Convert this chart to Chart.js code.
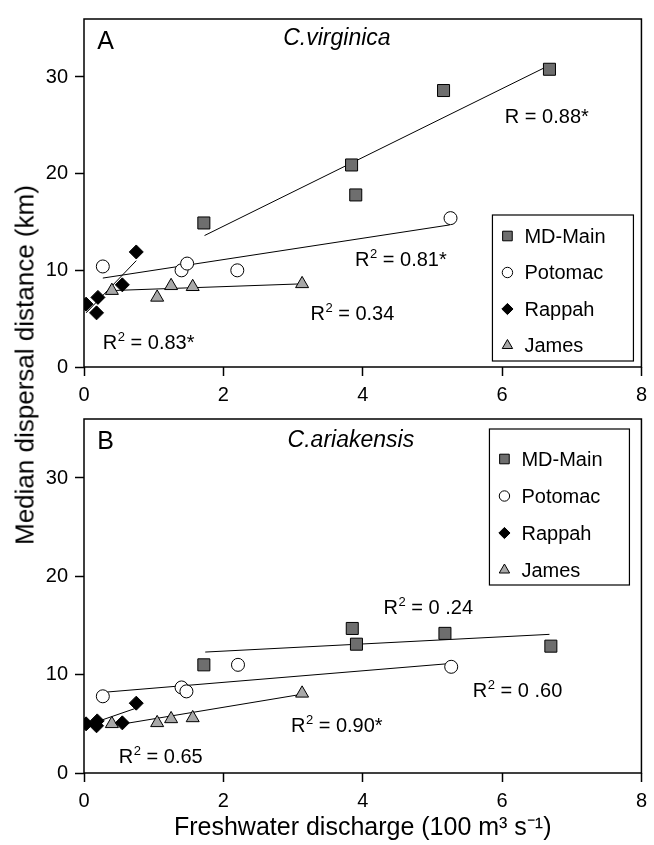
<!DOCTYPE html>
<html>
<head>
    <title>Median dispersal distance vs freshwater discharge</title>
    <script src="https://cdn.jsdelivr.net/npm/chart.js@4.4.0/dist/chart.umd.min.js"></script>
    <style>
        body { margin: 0; background: #fff; }
        #wrap { position: relative; width: 654px; height: 845px; }
        #chartA { position: absolute; left: 0; top: 0; }
        #chartB { position: absolute; left: 0; top: 400px; }
        #ytitle {
            position: absolute; left: 25px; top: 365px;
            transform: translate(-50%, -50%) rotate(-90deg);
            white-space: nowrap; font-family: "Liberation Sans", Arial, sans-serif;
            font-size: 26px; color: #000;
        }
    </style>
</head>
<body>
<div id="wrap">
    <canvas id="chartA" width="654" height="412"></canvas>
    <canvas id="chartB" width="654" height="445"></canvas>
    <div id="ytitle">Median dispersal distance (km)</div>
</div>

<script>
    // data: [discharge (100 m3/s), median dispersal (km)]
    var seriesNames = ['MD-Main', 'Potomac', 'Rappah', 'James'];
    var xTicks = [0, 2, 4, 6, 8];
    var yTicks = [0, 10, 20, 30];

    // panel A - C. virginica
    var virMdMain = [[1.72, 14.9], [3.84, 20.9], [3.9, 17.8], [5.16, 28.6], [6.68, 30.8]];
    var virPotomac = [[0.27, 10.4], [1.4, 10.0], [1.48, 10.7], [2.2, 10.0], [5.26, 15.4]];
    var virRappah = [[0.03, 6.5], [0.18, 5.6], [0.2, 7.2], [0.55, 8.5], [0.75, 11.9]];
    var virJames = [[0.4, 7.9], [1.05, 7.2], [1.25, 8.4], [1.56, 8.3], [3.13, 8.6]];
    var virMdMainFit = [[1.73, 13.6], [6.62, 31.0]];
    var virPotomacFit = [[0.27, 9.2], [5.25, 14.7]];
    var virRappahFit = [[0.03, 5.6], [0.75, 11.0]];
    var virJamesFit = [[0.37, 7.9], [3.12, 8.6]];

    // panel B - C. ariakensis
    var ariMdMain = [[1.72, 11.0], [3.85, 14.7], [3.91, 13.1], [5.18, 14.2], [6.7, 12.9]];
    var ariPotomac = [[0.27, 7.8], [1.4, 8.7], [1.47, 8.3], [2.21, 11.0], [5.27, 10.8]];
    var ariRappah = [[0.03, 5.0], [0.18, 4.8], [0.19, 5.3], [0.55, 5.1], [0.75, 7.1]];
    var ariJames = [[0.4, 5.0], [1.05, 5.1], [1.25, 5.5], [1.56, 5.6], [3.13, 8.1]];
    var ariMdMainFit = [[1.74, 12.3], [6.68, 14.1]];
    var ariPotomacFit = [[0.27, 8.2], [5.2, 11.1]];
    var ariRappahFit = [[0.18, 5.2], [0.75, 6.6]];
    var ariJamesFit = [[0.4, 4.8], [3.12, 8.0]];

    var FONT = '"Liberation Sans", Arial, sans-serif';
    Chart.defaults.font.family = FONT;
    Chart.defaults.color = '#000';

    var markerStyles = {
        'MD-Main': { pointStyle: 'rect', radius: 8.5, bg: '#6e6e6e' },
        'Potomac': { pointStyle: 'circle', radius: 6.5, bg: '#ffffff' },
        'Rappah': { pointStyle: 'rectRot', radius: 7, bg: '#000000' },
        'James': { pointStyle: 'triangle', radius: 7.5, bg: '#a8a8a8' }
    };

    function toXY(arr) {
        return arr.map(function (p) { return { x: p[0], y: p[1] }; });
    }

    function pointSet(name, arr) {
        var s = markerStyles[name];
        return {
            label: name, data: toXY(arr), order: 1,
            pointStyle: s.pointStyle, pointRadius: s.radius, pointHoverRadius: s.radius,
            backgroundColor: s.bg, borderColor: '#000', borderWidth: 1, showLine: false
        };
    }

    function fitSet(name, arr) {
        return {
            label: name + ' fit', data: toXY(arr), order: 2, showLine: true,
            pointRadius: 0, borderColor: '#000', borderWidth: 1, fill: false
        };
    }

    // draw a legend marker by hand (same shapes as the library's point styles)
    function drawMarker(ctx, s, x, y, r) {
        ctx.beginPath();
        if (s.pointStyle === 'rect') {
            var h = r * Math.SQRT1_2;
            ctx.rect(x - h, y - h, 2 * h, 2 * h);
        } else if (s.pointStyle === 'circle') {
            ctx.arc(x, y, r, 0, Math.PI * 2);
        } else if (s.pointStyle === 'rectRot') {
            ctx.moveTo(x - r, y); ctx.lineTo(x, y - r); ctx.lineTo(x + r, y); ctx.lineTo(x, y + r);
            ctx.closePath();
        } else {
            for (var i = 0; i < 3; i++) {
                var a = i * 2 * Math.PI / 3;
                var px = x + Math.sin(a) * r, py = y - Math.cos(a) * r;
                if (i === 0) ctx.moveTo(px, py); else ctx.lineTo(px, py);
            }
            ctx.closePath();
        }
        ctx.fillStyle = s.bg;
        ctx.fill();
        ctx.lineWidth = 1;
        ctx.strokeStyle = '#000';
        ctx.stroke();
    }

    // frame + legend box + text labels
    var panelPlugin = {
        id: 'panelExtras',
        afterDraw: function (chart) {
            var o = chart.options.plugins.panelExtras;
            var ctx = chart.ctx, a = chart.chartArea;
            var xs = chart.scales.x, ys = chart.scales.y;
            ctx.save();
            ctx.strokeStyle = '#000';
            ctx.lineWidth = 1.5;
            ctx.strokeRect(a.left, a.top, a.right - a.left, a.bottom - a.top);

            // legend
            var lg = o.legend;
            var bx = a.right - lg.right - lg.width, by = a.top + lg.top;
            ctx.lineWidth = 1.2;
            ctx.strokeRect(bx, by, lg.width, lg.height);
            ctx.font = '20px ' + FONT;
            ctx.textBaseline = 'middle';
            ctx.textAlign = 'left';
            seriesNames.forEach(function (n, i) {
                var yy = by + lg.first + i * lg.step;
                drawMarker(ctx, markerStyles[n], bx + 15, yy, markerStyles[n].radius * 0.8);
                ctx.fillStyle = '#000';
                ctx.fillText(n, bx + 32, yy + 1);
            });

            // panel letter and species name
            ctx.textBaseline = 'alphabetic';
            ctx.fillStyle = '#000';
            ctx.font = '25px ' + FONT;
            ctx.fillText(o.letter.text, xs.getPixelForValue(o.letter.x), ys.getPixelForValue(o.letter.y));
            ctx.font = 'italic 23px ' + FONT;
            ctx.textAlign = 'center';
            ctx.fillText(o.species.text, xs.getPixelForValue(o.species.x), ys.getPixelForValue(o.species.y));

            // regression labels
            ctx.textAlign = 'left';
            o.notes.forEach(function (n) {
                var x = xs.getPixelForValue(n.x), y = ys.getPixelForValue(n.y);
                ctx.font = '20px ' + FONT;
                ctx.fillText(n.pre, x, y);
                x += ctx.measureText(n.pre).width;
                if (n.sup) {
                    ctx.font = '13px ' + FONT;
                    ctx.fillText(n.sup, x + 0.5, y - 8);
                    x += ctx.measureText(n.sup).width + 0.5;
                }
                ctx.font = '20px ' + FONT;
                ctx.fillText(n.post, x, y);
            });
            ctx.restore();
        }
    };

    function makeChart(id, sets, fits, extras, pad, xHeight, showXTitle) {
        return new Chart(document.getElementById(id), {
            type: 'scatter',
            data: {
                datasets: [
                    pointSet('MD-Main', sets[0]), pointSet('Potomac', sets[1]),
                    pointSet('Rappah', sets[2]), pointSet('James', sets[3]),
                    fitSet('MD-Main', fits[0]), fitSet('Potomac', fits[1]),
                    fitSet('Rappah', fits[2]), fitSet('James', fits[3])
                ]
            },
            options: {
                responsive: false,
                animation: false,
                events: [],
                layout: { padding: pad },
                plugins: {
                    legend: { display: false },
                    tooltip: { enabled: false },
                    panelExtras: extras
                },
                scales: {
                    x: {
                        type: 'linear', min: 0, max: 8,
                        afterBuildTicks: function (s) { s.ticks = xTicks.map(function (v) { return { value: v }; }); },
                        afterFit: function (s) { s.height = xHeight; },
                        border: { display: false },
                        grid: { drawOnChartArea: false, drawTicks: true, tickLength: 9, tickWidth: 1.5, tickColor: '#000' },
                        ticks: { font: { size: 20 }, padding: 7, maxRotation: 0, color: '#000' },
                        title: {
                            display: showXTitle, text: 'Freshwater discharge (100 m\u00b3 s\u207b\u00b9)',
                            font: { size: 25 }, padding: { top: 0, bottom: 2 }, color: '#000'
                        }
                    },
                    y: {
                        type: 'linear', min: 0, max: 36,
                        afterBuildTicks: function (s) { s.ticks = yTicks.map(function (v) { return { value: v }; }); },
                        afterFit: function (s) { s.width = 84; },
                        border: { display: false },
                        grid: { drawOnChartArea: false, drawTicks: true, tickLength: 9, tickWidth: 1.5, tickColor: '#000' },
                        ticks: { font: { size: 20 }, padding: 7, color: '#000' }
                    }
                }
            },
            plugins: [panelPlugin]
        });
    }

    // panel A canvas is a little taller than 400 so its tick labels are not cut;
    // panel B's transparent top margin sits over that strip
    makeChart('chartA',
        [virMdMain, virPotomac, virRappah, virJames],
        [virMdMainFit, virPotomacFit, virRappahFit, virJamesFit],
        {
            legend: { right: 8, width: 141, top: 196, height: 146, first: 21, step: 36.5 },
            letter: { text: 'A', x: 0.19, y: 32.9 },
            species: { text: 'C.virginica', x: 3.63, y: 33.3 },
            notes: [
                { pre: 'R = 0.88*', sup: '', post: '', x: 6.04, y: 25.2 },
                { pre: 'R', sup: '2', post: ' = 0.81*', x: 3.89, y: 10.5 },
                { pre: 'R', sup: '2', post: ' = 0.34', x: 3.25, y: 4.9 },
                { pre: 'R', sup: '2', post: ' = 0.83*', x: 0.27, y: 1.9 }
            ]
        },
        { left: 0, right: 12, top: 10, bottom: 0 }, 45, false);

    makeChart('chartB',
        [ariMdMain, ariPotomac, ariRappah, ariJames],
        [ariMdMainFit, ariPotomacFit, ariRappahFit, ariJamesFit],
        {
            legend: { right: 12, width: 140, top: 10, height: 156, first: 30, step: 37 },
            letter: { text: 'B', x: 0.19, y: 32.9 },
            species: { text: 'C.ariakensis', x: 3.83, y: 33.2 },
            notes: [
                { pre: 'R', sup: '2', post: ' = 0 .24', x: 4.30, y: 16.2 },
                { pre: 'R', sup: '2', post: ' = 0 .60', x: 5.58, y: 7.7 },
                { pre: 'R', sup: '2', post: ' = 0.90*', x: 2.97, y: 4.15 },
                { pre: 'R', sup: '2', post: ' = 0.65', x: 0.50, y: 1.0 }
            ]
        },
        { left: 0, right: 12, top: 18, bottom: 0 }, 72, true);
</script>
</body>
</html>
